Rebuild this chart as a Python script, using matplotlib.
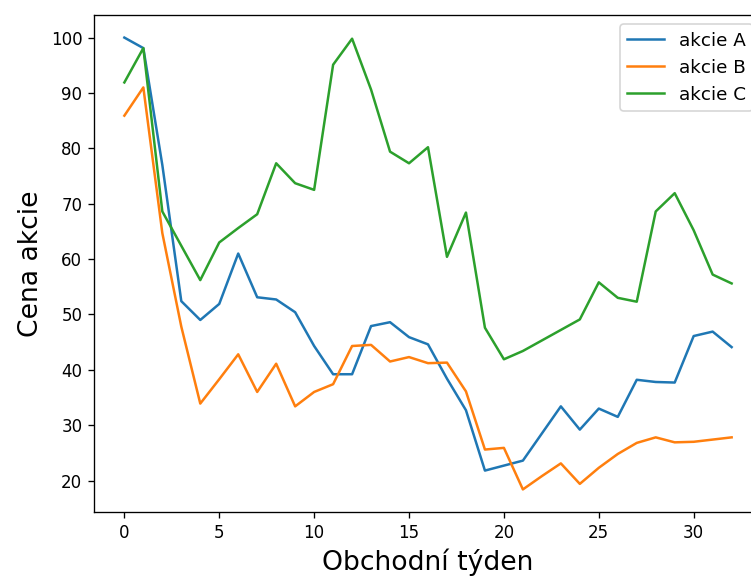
import numpy as np
import matplotlib
matplotlib.use("Agg")
import matplotlib.pyplot as plt


tydny = np.arange(33)

akcie_a = [100.0, 98.1, 77.0, 52.4, 49.0, 51.9, 61.0, 53.1, 52.7, 50.4,
           44.3, 39.2, 39.2, 47.9, 48.6, 45.9, 44.6, 38.4, 32.7, 21.8,
           22.7, 23.6, 28.5, 33.4, 29.2, 33.0, 31.5, 38.2, 37.8, 37.7,
           46.1, 46.9, 44.1]

akcie_b = [85.9, 91.0, 64.7, 47.8, 33.9, 38.3, 42.8, 36.0, 41.1, 33.4,
           36.0, 37.4, 44.3, 44.5, 41.5, 42.3, 41.2, 41.3, 36.1, 25.6,
           25.9, 18.4, 20.8, 23.1, 19.4, 22.3, 24.8, 26.8, 27.8, 26.9,
           27.0, 27.4, 27.8]

akcie_c = [91.9, 98.1, 68.6, 62.4, 56.2, 63.0, 65.6, 68.1, 77.3, 73.7,
           72.5, 95.1, 99.8, 90.6, 79.4, 77.3, 80.2, 60.4, 68.4, 47.6,
           41.9, 43.4, 45.3, 47.2, 49.1, 55.8, 53.0, 52.3, 68.6, 71.9,
           65.2, 57.2, 55.6]

W, H = 751, 577
fig = plt.figure(figsize=(W / 120, H / 120), dpi=120)
ax = fig.add_axes([94 / W, 1 - 512 / H, (762 - 94) / W, (512 - 15) / H])

ax.plot(tydny, akcie_a, label="akcie A")
ax.plot(tydny, akcie_b, label="akcie B")
ax.plot(tydny, akcie_c, label="akcie C")

ax.set_xlabel("Obchodní týden", fontsize=16)
ax.set_ylabel("Cena akcie", fontsize=16)
ax.legend(loc="upper right", fontsize=11)

fig.savefig("out.png", dpi=120)
